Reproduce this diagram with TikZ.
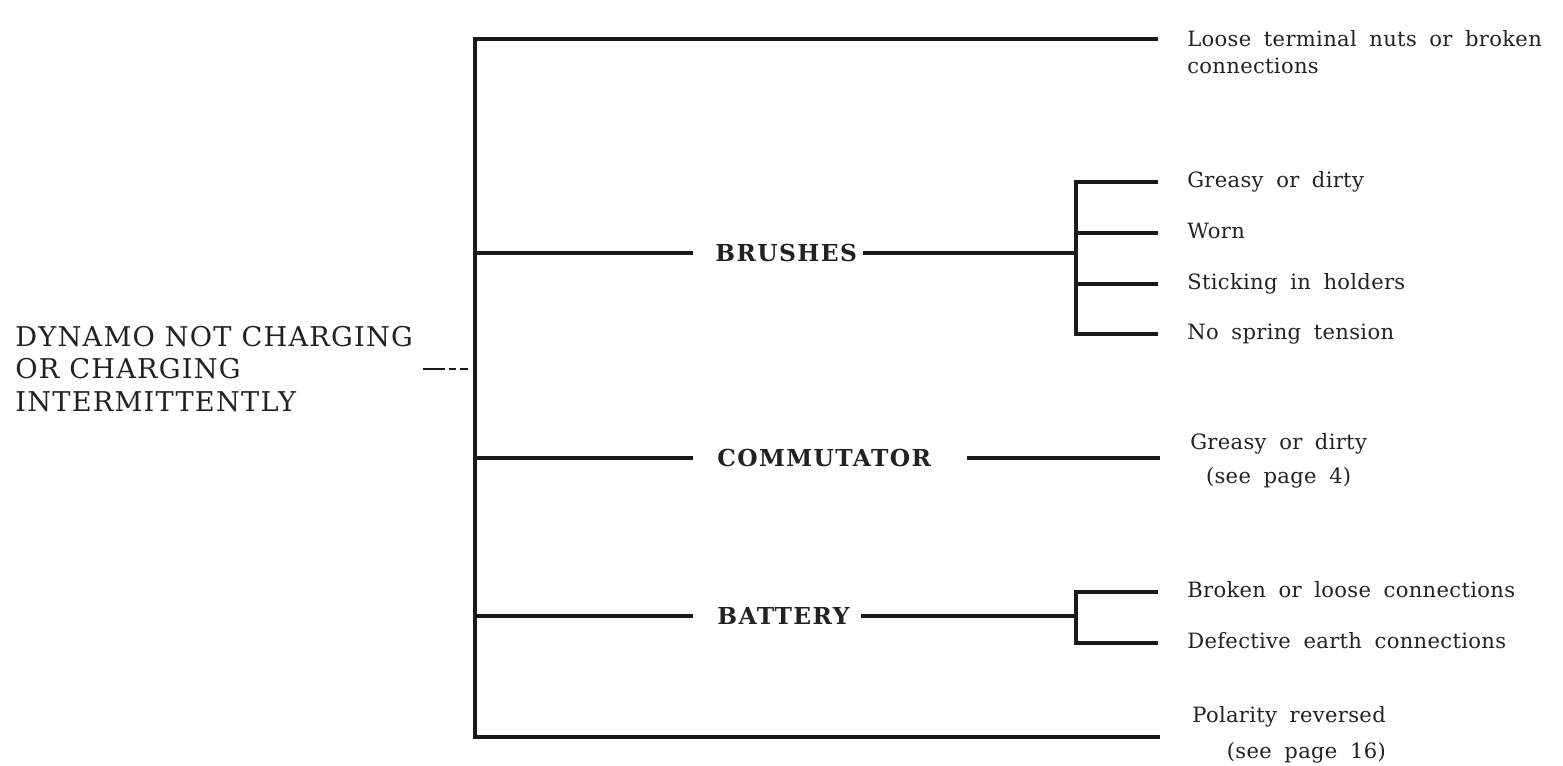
\documentclass[tikz,border=0pt]{standalone}
\usepackage{fontspec}
\setmainfont{DejaVu Serif}
\newfontfamily\headfont[LetterSpace=4.5]{DejaVu Serif}
\newfontfamily\causefont[LetterSpace=6]{DejaVu Serif}
\newfontfamily\leaffont[WordSpace=1.8, LetterSpace=1.5]{DejaVu Serif}
\usetikzlibrary{positioning}
\definecolor{inkline}{HTML}{1A1A1A}
\definecolor{inktext}{HTML}{222222}
\tikzset{
  font=\fontsize{12}{15}\selectfont,
  %
  bar/.style={draw=inkline, line width=2.1pt},
  stub/.style={draw=inkline, line width=1.6pt,
               dash pattern=on 0.44cm off 0.08cm on 0.14cm off 0.08cm on 0.16cm},
  %
  headtext/.style={anchor=west, align=left, inner sep=0pt, text=inktext,
    font=\headfont\fontsize{15.5}{18.7}\selectfont},
  cause/.style={anchor=west, inner sep=0pt, text=inktext,
    font=\causefont\bfseries\fontsize{13.3}{16}\selectfont},
  leaf/.style={anchor=west, inner sep=0pt, text=inktext,
    text height=9pt, text depth=2.2pt,
    font=\leaffont\fontsize{12}{15}\selectfont},
  leafmulti/.style={anchor=west, inner sep=0pt, text=inktext,
    font=\leaffont\fontsize{12}{15.5}\selectfont},
}

\begin{document}
\begin{tikzpicture}[x=0.02cm, y=-0.02cm]
  \useasboundingbox (0,0) rectangle (1563,765);

  % trunk and where the causes leave it
  \coordinate (tTop)   at (475,39);
  \coordinate (tBrush) at (475,253);
  \coordinate (tComm)  at (475,458);
  \coordinate (tBatt)  at (475,616);
  \coordinate (tBot)   at (475,737);

  % split points and line ends on the right
  \coordinate (sBrush) at (1076,253);
  \coordinate (sBatt)  at (1076,616);
  \coordinate (eLoose)    at (1158,39);
  \coordinate (eGreasy)   at (1158,182);
  \coordinate (eWorn)     at (1158,233);
  \coordinate (eSticking) at (1158,284);
  \coordinate (eNoSpring) at (1158,334);
  \coordinate (eComm)     at (1160,458);
  \coordinate (eBroken)   at (1158,592);
  \coordinate (eEarth)    at (1158,643);
  \coordinate (ePolar)    at (1160,737);

  \node[headtext] (dynamo) at (15,369)
    {DYNAMO NOT CHARGING\\OR CHARGING\\INTERMITTENTLY};

  \node[cause] (brushes)    at (715,253) {BRUSHES};
  \node[cause] (commutator) at (717,458) {COMMUTATOR};
  \node[cause] (battery)    at (717,616) {BATTERY};

  % leaves
  \node[leafmulti, align=left, right=0.58cm of eLoose, yshift=-0.26cm] (loose)
    {Loose terminal nuts or broken\\connections};
  \node[leaf, right=0.58cm of eGreasy]   (greasy)   {Greasy or dirty};
  \node[leaf, right=0.58cm of eWorn]     (worn)     {Worn};
  \node[leaf, right=0.58cm of eSticking] (sticking) {Sticking in holders};
  \node[leaf, right=0.58cm of eNoSpring] (nospring) {No spring tension};
  \node[leafmulti, align=center, right=0.6cm of eComm, yshift=-0.05cm] (commdirt)
    {Greasy or dirty\\[4pt](see page 4)};
  \node[leaf, right=0.58cm of eBroken] (broken) {Broken or loose connections};
  \node[leaf, right=0.58cm of eEarth]  (earth)  {Defective earth connections};
  \node[leafmulti, align=right, right=0.64cm of ePolar, yshift=0.04cm] (polarity)
    {Polarity reversed\\[5pt](see page 16)};

  % connectors
  \draw[bar] (eLoose) -- (tTop) -- (tBot) -- (ePolar);
  \draw[stub] ([xshift=0.2cm]dynamo.east) -- (dynamo.east -| tTop);

  \draw[bar, shorten >=0.44cm] (tBrush) -- (brushes.west);
  \draw[bar, shorten <=0.12cm] (brushes.east) -- (sBrush);
  \draw[bar] (eGreasy) -- (eGreasy -| sBrush) -- (eNoSpring -| sBrush) -- (eNoSpring);
  \draw[bar] (eWorn -| sBrush) -- (eWorn);
  \draw[bar] (eSticking -| sBrush) -- (eSticking);

  \draw[bar, shorten >=0.48cm] (tComm) -- (commutator.west);
  \draw[bar, shorten <=0.7cm] (commutator.east) -- (eComm);

  \draw[bar, shorten >=0.48cm] (tBatt) -- (battery.west);
  \draw[bar, shorten <=0.22cm] (battery.east) -- (sBatt);
  \draw[bar] (eBroken) -- (eBroken -| sBatt) -- (eEarth -| sBatt) -- (eEarth);

\end{tikzpicture}
\end{document}
